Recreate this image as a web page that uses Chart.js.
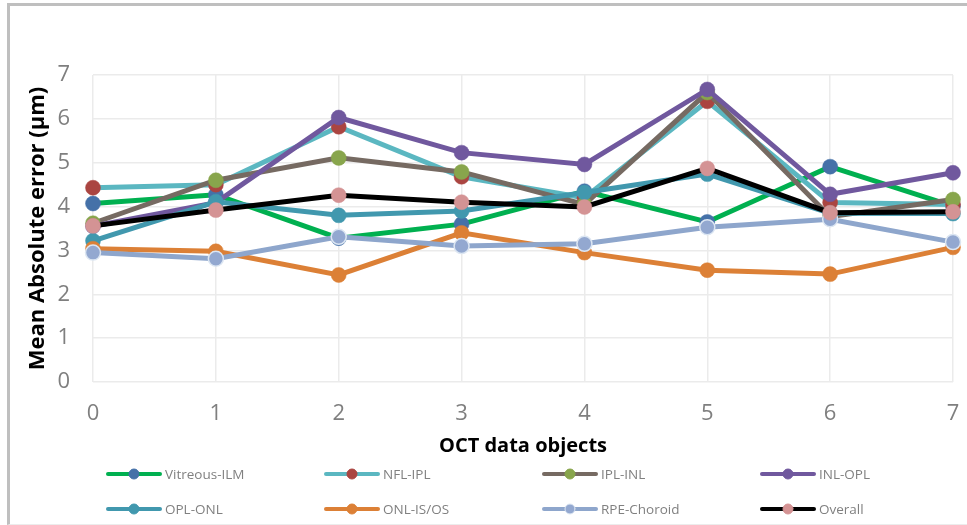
<!DOCTYPE html>
<html>
<head>
<meta charset="utf-8">
<script src="https://cdn.jsdelivr.net/npm/chart.js@4"></script>
<style>
  html, body { margin: 0; padding: 0; background: #fff; }
  #frame {
    position: absolute; left: 7px; top: 3px; width: 965px; height: 518px;
    border-left: 3px solid #bfbfbf; border-top: 3px solid #bfbfbf;
    border-bottom: 1px solid #ececec;
  }
  #wrap { position: absolute; left: 0; top: 0; width: 967px; height: 525px; }
</style>
</head>
<body>
<div id="frame"></div>
<div id="wrap"><canvas id="line-chart"></canvas></div>
<script>
// ---------------------------------------------------
const categories = [ '0', '1', '2', '3', '4', '5', '6', '7' ];
const yTicks = [ 0, 1, 2, 3, 4, 5, 6, 7 ];

const seriesNames = [ 'Vitreous-ILM', 'NFL-IPL', 'IPL-INL', 'INL-OPL',
                      'OPL-ONL', 'ONL-IS/OS', 'RPE-Choroid', 'Overall' ];

const vitreousIlm = [ 4.07, 4.27, 3.28, 3.60, 4.35, 3.65, 4.91, 4.01 ];
const nflIpl      = [ 4.43, 4.50, 5.82, 4.68, 4.20, 6.40, 4.09, 4.05 ];
const iplInl      = [ 3.62, 4.60, 5.11, 4.79, 4.05, 6.60, 3.77, 4.16 ];
const inlOpl      = [ 3.55, 4.09, 6.03, 5.23, 4.96, 6.67, 4.28, 4.77 ];
const oplOnl      = [ 3.22, 4.11, 3.80, 3.90, 4.32, 4.74, 3.85, 3.84 ];
const onlIsOs     = [ 3.04, 2.98, 2.44, 3.40, 2.95, 2.55, 2.46, 3.07 ];
const rpeChoroid  = [ 2.95, 2.81, 3.31, 3.10, 3.15, 3.53, 3.71, 3.19 ];
const overall     = [ 3.56, 3.92, 4.26, 4.10, 3.99, 4.87, 3.86, 3.88 ];

const seriesValues = [ vitreousIlm, nflIpl, iplInl, inlOpl, oplOnl, onlIsOs, rpeChoroid, overall ];

const lineColors   = [ '#00b050', '#5bb7c1', '#766a62', '#70589e', '#4198ae', '#dc8036', '#8ea6cc', '#000000' ];
const markerColors = [ '#4571a8', '#aa4541', '#88a54c', '#70589e', '#4198ae', '#dc8036', '#93a8d0', '#d49394' ];
const markerBorders = [ '#4571a8', '#aa4541', '#88a54c', '#70589e', '#4198ae', '#dc8036', '#dce6f2', '#d49394' ];
// ---------------------------------------------------
const FONT = "'Open Sans', 'Noto Sans', sans-serif";

const legendPlugin = {
    id: 'lineDotLegend',
    afterDraw( chart ) {
        const ctx = chart.ctx;
        ctx.save();
        chart.data.datasets.forEach( ( ds, i ) => {
            const col = i % 4, row = Math.floor( i / 4 );
            const x0 = 107 + col * 218;
            const y = 474 + row * 35;
            ctx.strokeStyle = ds.borderColor;
            ctx.lineWidth = 4;
            ctx.lineCap = 'round';
            ctx.beginPath();
            ctx.moveTo( x0 + 1, y );
            ctx.lineTo( x0 + 53, y );
            ctx.stroke();
            ctx.fillStyle = ds.pointBackgroundColor;
            ctx.strokeStyle = ds.pointBorderColor;
            ctx.lineWidth = 1;
            ctx.beginPath();
            ctx.arc( x0 + 27, y, 5, 0, Math.PI * 2 );
            ctx.fill();
            ctx.stroke();
            ctx.fillStyle = '#808080';
            ctx.font = '13.5px ' + FONT;
            ctx.textBaseline = 'middle';
            ctx.fillText( ds.label, x0 + 58, y + 1 );
        });
        ctx.restore();
    }
};

window.addEventListener( 'load', function () {
    const canvas = document.querySelector( '#line-chart' );
    const datasets = seriesNames.map( ( name, i ) => ({
        label: name,
        data: seriesValues[ i ],
        borderColor: lineColors[ i ],
        backgroundColor: lineColors[ i ],
        borderWidth: 5,
        pointRadius: 7.5,
        pointHoverRadius: 7.5,
        pointBackgroundColor: markerColors[ i ],
        pointBorderColor: markerBorders[ i ],
        pointBorderWidth: i === 6 ? 1.5 : 0.5,
        tension: 0,
        clip: false,
        order: seriesNames.length - 1 - i
    }));

    new Chart( canvas, {
        type: 'line',
        data: { labels: categories, datasets: datasets },
        plugins: [ legendPlugin ],
        options: {
            responsive: true,
            maintainAspectRatio: false,
            animation: false,
            layout: { padding: { left: 21, top: 75, right: 14, bottom: 63 } },
            plugins: { legend: { display: false }, tooltip: { enabled: false } },
            scales: {
                x: {
                    type: 'category',
                    offset: false,
                    grid: { color: '#ebebeb', lineWidth: 1.5, drawTicks: false },
                    border: { display: false },
                    ticks: { color: '#7f7f7f', font: { family: FONT, size: 22 }, padding: 19, maxRotation: 0 },
                    title: { display: true, text: 'OCT data objects', color: '#000',
                             font: { family: FONT, size: 20, weight: 'bold' } },
                    afterFit( scale ) {
                        scale.height = 80;
                        scale.paddingLeft = 0;
                        scale.paddingRight = 0;
                    }
                },
                y: {
                    min: 0, max: 7,
                    afterBuildTicks( scale ) { scale.ticks = yTicks.map( v => ({ value: v }) ); },
                    grid: { color: '#ebebeb', lineWidth: 1.5, drawTicks: false },
                    border: { display: false },
                    ticks: { color: '#7f7f7f', font: { family: FONT, size: 22 }, padding: 23 },
                    title: { display: true, text: 'Mean Absolute error (µm)', color: '#000',
                             font: { family: FONT, size: 22, weight: 'bold' } },
                    afterFit( scale ) {
                        scale.width = 72;
                        scale.paddingTop = 0;
                        scale.paddingBottom = 0;
                    }
                }
            }
        }
    });
}, false );
</script>
</body>
</html>
